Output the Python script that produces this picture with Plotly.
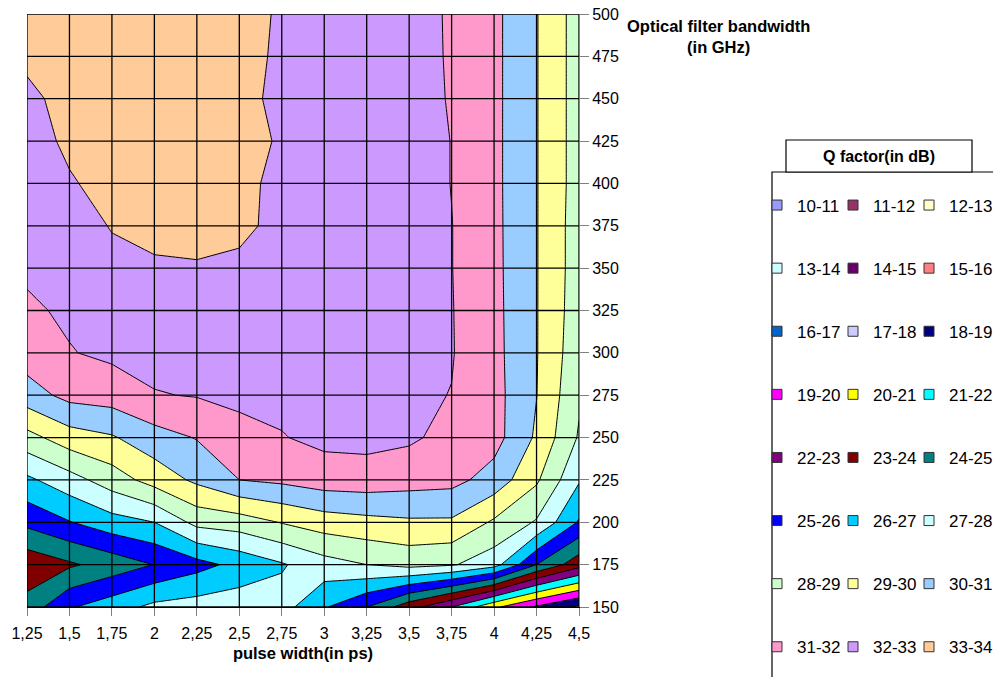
import plotly.graph_objects as go

# ---------------- data ----------------
pulse_width = [1.25, 1.5, 1.75, 2.0, 2.25, 2.5, 2.75, 3.0, 3.25, 3.5, 3.75, 4.0, 4.25, 4.5]
pulse_labels = ["1,25", "1,5", "1,75", "2", "2,25", "2,5", "2,75", "3", "3,25", "3,5", "3,75", "4", "4,25", "4,5"]
bandwidth = [150, 175, 200, 225, 250, 275, 300, 325, 350, 375, 400, 425, 450, 475, 500]
bandwidth_labels = [str(v) for v in bandwidth]

q_150 = [24.4, 25.9, 26.55, 27.25, 27.45, 27.6, 27.4, 26.1, 25.0, 23.4, 22.0, 20.2, 18.85, 17.8]
q_175 = [23.3, 23.85, 24.4, 25.02, 25.65, 26.3, 26.9, 27.6, 28.0, 28.3, 28.1, 27.4, 25.0, 23.4]
q_200 = [25.25, 25.95, 26.6, 27.0, 28.3, 28.5, 29.05, 29.5, 29.7, 29.85, 29.85, 28.85, 27.9, 25.9]
q_225 = [26.8, 27.6, 28.5, 29.4, 30.2, 31.0, 31.2, 31.5, 31.55, 31.4, 31.3, 30.6, 29.15, 27.1]
q_250 = [28.65, 29.55, 29.9, 30.6, 31.05, 31.85, 31.95, 32.25, 32.3, 32.15, 31.7, 31.38, 29.85, 27.9]
q_275 = [30.55, 31.3, 31.45, 31.95, 32.05, 32.1, 32.25, 32.35, 32.35, 32.15, 31.98, 31.35, 30.02, 28.15]
q_300 = [31.5, 31.95, 32.2, 32.3, 32.35, 32.35, 32.4, 32.45, 32.4, 32.35, 32.05, 31.3, 30.05, 28.35]
q_325 = [31.85, 32.15, 32.45, 32.6, 32.65, 32.6, 32.5, 32.55, 32.5, 32.4, 32.04, 31.28, 30.05, 28.45]
q_350 = [32.15, 32.35, 32.75, 32.93, 32.95, 32.82, 32.6, 32.65, 32.6, 32.45, 32.02, 31.26, 30.05, 28.5]
q_375 = [32.3, 32.6, 33.05, 33.15, 33.2, 33.2, 32.75, 32.7, 32.65, 32.5, 32.02, 31.25, 30.05, 28.5]
q_400 = [32.4, 32.9, 33.35, 33.4, 33.4, 33.2, 32.8, 32.75, 32.65, 32.5, 31.98, 31.24, 30.05, 28.55]
q_425 = [32.55, 33.2, 33.55, 33.6, 33.6, 33.5, 32.85, 32.75, 32.65, 32.5, 31.98, 31.24, 30.05, 28.55]
q_450 = [32.72, 33.4, 33.7, 33.75, 33.75, 33.3, 32.75, 32.7, 32.6, 32.45, 31.92, 31.24, 30.05, 28.55]
q_475 = [33.25, 33.6, 33.8, 33.85, 33.85, 33.5, 32.75, 32.65, 32.55, 32.4, 31.9, 31.24, 30.05, 28.55]
q_500 = [33.6, 33.8, 33.85, 33.9, 33.9, 33.6, 32.8, 32.6, 32.45, 32.35, 31.9, 31.24, 30.05, 28.55]

q_rows = [q_150, q_175, q_200, q_225, q_250, q_275, q_300, q_325,
          q_350, q_375, q_400, q_425, q_450, q_475, q_500]

band_labels = ["10-11", "11-12", "12-13", "13-14", "14-15", "15-16", "16-17", "17-18",
               "18-19", "19-20", "20-21", "21-22", "22-23", "23-24", "24-25", "25-26",
               "26-27", "27-28", "28-29", "29-30", "30-31", "31-32", "32-33", "33-34"]
band_colors = ["#9999FF", "#993366", "#FFFFCC", "#CCFFFF", "#660066", "#FF8080", "#0066CC", "#CCCCFF",
               "#000080", "#FF00FF", "#FFFF00", "#00FFFF", "#800080", "#800000", "#008080", "#0000FF",
               "#00CCFF", "#CCFFFF", "#CCFFCC", "#FFFF99", "#99CCFF", "#FF99CC", "#CC99FF", "#FFCC99"]
q_start, q_end, q_step = 10, 34, 1

# ---------------- figure ----------------
FONT = "Liberation Sans, Arial, sans-serif"
n_levels = len(band_labels) + 1
colorscale = [[0.0, "#FFFFFF"]]
for i, c in enumerate(band_colors):
    colorscale.append([(i + 1) / n_levels, c])
colorscale.append([1.0, band_colors[-1]])

fig = go.Figure()
fig.add_trace(go.Contour(
    x=pulse_width, y=bandwidth, z=q_rows,
    autocontour=False,
    contours=dict(start=q_start, end=q_end, size=q_step, coloring="fill", showlines=True),
    line=dict(color="black", width=1, smoothing=0),
    colorscale=colorscale, showscale=False, showlegend=False, hoverinfo="skip",
))

# grid lines drawn above the filled contours
gx, gy = [], []
for xv in pulse_width:
    gx += [xv, xv, None]
    gy += [bandwidth[0], bandwidth[-1], None]
for yv in bandwidth:
    gx += [pulse_width[0], pulse_width[-1], None]
    gy += [yv, yv, None]
fig.add_trace(go.Scatter(x=gx, y=gy, mode="lines", line=dict(color="black", width=1.3),
                         showlegend=False, hoverinfo="skip"))

# legend entries, three columns
legend_names = ["legend", "legend2", "legend3"]
for i, (lab, col) in enumerate(zip(band_labels, band_colors)):
    fig.add_trace(go.Scatter(
        x=[None], y=[None], mode="markers", name=lab,
        marker=dict(symbol="square", size=10, color=col, line=dict(color="#333333", width=1)),
        legend=legend_names[i % 3], legendgroup=lab, legendrank=i,
    ))

W, H = 993, 677
L, R, T, B = 27, 414, 14, 70
pw, ph = W - L - R, H - T - B

def px_x(p):
    return (p - L) / pw

def px_y(p):
    return (H - B - p) / ph

leg_common = dict(bgcolor="rgba(0,0,0,0)", borderwidth=0, tracegroupgap=38,
                  traceorder="grouped", font=dict(family=FONT, size=17, color="black"),
                  xanchor="left", yanchor="top", itemwidth=30)
col_x = [777, 853, 929]
layout_legends = {}
for name, cx in zip(legend_names, col_x):
    layout_legends[name] = dict(leg_common, x=px_x(cx - 20), y=px_y(187.5))

fig.update_layout(
    width=W, height=H,
    margin=dict(l=L, r=R, t=T, b=B, autoexpand=False),
    paper_bgcolor="white", plot_bgcolor="white",
    font=dict(family=FONT, size=16, color="black"),
    hovermode=False,
    xaxis=dict(range=[pulse_width[0], pulse_width[-1]], tickmode="array",
               tickvals=pulse_width, ticktext=pulse_labels, showgrid=False, zeroline=False,
               ticks="outside", ticklen=8, tickcolor="#808080", showline=True,
               linecolor="black", linewidth=1, ticklabelstandoff=4, automargin=False,
               tickfont=dict(family=FONT, size=16),
               title=dict(text="<b>pulse width(in ps)</b>", standoff=6,
                          font=dict(family=FONT, size=16.5))),
    yaxis=dict(range=[bandwidth[0], bandwidth[-1]], tickmode="array",
               tickvals=bandwidth, ticktext=bandwidth_labels, side="right",
               showgrid=False, zeroline=False, ticks="outside", ticklen=9, automargin=False,
               tickcolor="#808080", showline=True, linecolor="#808080", linewidth=1,
               tickfont=dict(family=FONT, size=16)),
    **layout_legends,
)

# legend frame and title box
fig.add_shape(type="rect", xref="paper", yref="paper",
              x0=px_x(772), x1=px_x(1010), y0=px_y(700), y1=px_y(172),
              line=dict(color="black", width=1.2), fillcolor="rgba(0,0,0,0)", layer="below")
fig.add_shape(type="rect", xref="paper", yref="paper",
              x0=px_x(786), x1=px_x(972), y0=px_y(172), y1=px_y(140),
              line=dict(color="black", width=1.2), fillcolor="white")
fig.add_annotation(xref="paper", yref="paper", x=px_x(879), y=px_y(156),
                   text="<b>Q factor(in dB)</b>", showarrow=False,
                   font=dict(family=FONT, size=16), xanchor="center", yanchor="middle")
fig.add_annotation(xref="paper", yref="paper", x=px_x(718), y=px_y(37),
                   text="<b>Optical filter bandwidth<br>(in GHz)</b>", showarrow=False,
                   font=dict(family=FONT, size=16.5), xanchor="center", yanchor="middle")

fig.write_html("out.html")
